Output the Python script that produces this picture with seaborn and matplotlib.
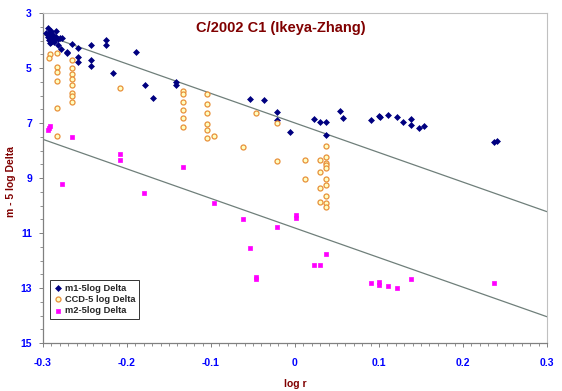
"""
C/2002 C1 (Ikeya-Zhang): reduced magnitude vs log r
"""

import numpy as np
import pandas as pd
import matplotlib
matplotlib.use('Agg')
import matplotlib.pyplot as plt
from matplotlib.ticker import MultipleLocator
import seaborn as sns

# m1 - 5 log Delta (visual total magnitudes)
m1_logr = [-0.294, -0.292, -0.296, -0.290, -0.284, -0.294, -0.291, -0.288, -0.286, -0.284,
           -0.282, -0.277, -0.293, -0.290, -0.287, -0.292, -0.282, -0.278, -0.272, -0.271,
           -0.265, -0.258, -0.258, -0.258, -0.243, -0.243, -0.243, -0.225, -0.225, -0.217,
           -0.189, -0.179, -0.169, -0.142, -0.142, -0.288, -0.294, -0.280,
           -0.054, -0.037, -0.022, -0.022, -0.006, 0.023, 0.030, 0.037, 0.037, 0.053,
           0.057, 0.090, 0.100, 0.101, 0.111, 0.122, 0.128, 0.138, 0.138, 0.148,
           0.153, 0.237, 0.241]
m1_mag = [3.56, 3.68, 3.74, 3.64, 3.64, 3.80, 3.86, 3.92, 3.96, 3.86,
          3.96, 3.92, 3.98, 4.04, 4.04, 4.10, 4.16, 4.32, 4.41, 4.47,
          4.14, 4.28, 4.59, 4.77, 4.16, 4.71, 4.92, 3.98, 4.16, 5.19,
          4.43, 5.62, 6.08, 5.50, 5.62, 3.81, 3.88, 3.91,
          6.13, 6.17, 6.59, 6.89, 7.34, 6.85, 6.95, 6.95, 7.43, 6.57,
          6.82, 6.89, 6.73, 6.77, 6.72, 6.78, 6.95, 6.85, 7.06, 7.18,
          7.11, 7.70, 7.64]

# CCD - 5 log Delta
ccd_logr = [-0.292, -0.293, -0.283, -0.283, -0.283, -0.283, -0.283, -0.283,
            -0.265, -0.265, -0.265, -0.265, -0.265, -0.265, -0.265, -0.265, -0.208,
            -0.133, -0.133, -0.133, -0.133, -0.133, -0.133,
            -0.105, -0.105, -0.105, -0.105, -0.105, -0.105, -0.096,
            -0.062, -0.046, -0.021, -0.022,
            0.012, 0.012, 0.030, 0.030, 0.030, 0.030,
            0.037, 0.037, 0.037, 0.037, 0.037, 0.037, 0.037, 0.037, 0.037, 0.037]
ccd_mag = [4.50, 4.65, 4.47, 4.97, 5.16, 5.46, 6.44, 7.46,
           4.71, 5.01, 5.22, 5.40, 5.62, 5.92, 6.02, 6.23, 5.74,
           5.84, 5.93, 6.23, 6.53, 6.83, 7.13,
           5.93, 6.32, 6.64, 7.05, 7.24, 7.55, 7.48,
           7.88, 6.65, 6.99, 8.39,
           8.33, 9.05, 8.36, 8.77, 9.37, 9.86,
           7.85, 8.24, 8.45, 8.54, 8.64, 9.05, 9.24, 9.65, 9.92, 10.04]

# m2 - 5 log Delta (nuclear magnitudes)
m2_logr = [-0.292, -0.293, -0.294, -0.265, -0.277, -0.208, -0.208, -0.180, -0.133,
           -0.097, -0.062, -0.022, 0.001, 0.001, -0.054, -0.046, -0.046, 0.037,
           0.023, 0.030, 0.090, 0.100, 0.100, 0.111, 0.122, 0.138, 0.237]
m2_mag = [7.10, 7.19, 7.25, 7.52, 9.23, 8.14, 8.35, 9.53, 8.60,
          9.91, 10.50, 10.79, 10.35, 10.47, 11.55, 12.59, 12.68, 11.75,
          12.16, 12.16, 12.83, 12.77, 12.90, 12.94, 13.00, 12.67, 12.81]

# Model lines: H + slope * log r
line_logr = [-0.3, 0.3]
line_slope = 10.75
line_H = [7.0, 10.82]

x_ticks = [-0.3, -0.2, -0.1, 0.0, 0.1, 0.2, 0.3]
x_ticklabels = ['-0.3', '-0.2', '-0.1', '0', '0.1', '0.2', '0.3']
y_ticks = [3, 5, 7, 9, 11, 13, 15]

sns.set_style('white')
plt.rcParams['font.family'] = ['Liberation Sans', 'DejaVu Sans']

fig = plt.figure(figsize=(5.62, 3.91), dpi=100)
ax = fig.add_axes([43/562, 1 - 343/391, 504/562, 330/391])

# Model lines
for H in line_H:
    df_line = pd.DataFrame({'x': line_logr,
                            'y': [H + line_slope * v for v in line_logr]})
    sns.lineplot(data=df_line, x='x', y='y', ax=ax, color='#6f7f7a',
                 lw=0.9, legend=False, zorder=1)

sns.scatterplot(x=m1_logr, y=m1_mag, ax=ax, marker='D', s=9, color='#000080',
                edgecolor='#000080', linewidth=0.5, label='m1-5log Delta', zorder=3)
sns.scatterplot(x=ccd_logr, y=ccd_mag, ax=ax, marker='o', s=13, color='#ffffc0',
                edgecolor='#e8903a', linewidth=0.9, label='CCD-5 log Delta', zorder=3)
sns.scatterplot(x=m2_logr, y=m2_mag, ax=ax, marker='s', s=11, color='#ff00ff',
                edgecolor='#ff00ff', linewidth=0.5, label='m2-5log Delta', zorder=3)

ax.set_xlim(-0.3, 0.3)
ax.set_ylim(15, 3)
ax.set_xticks(x_ticks)
ax.set_xticklabels(x_ticklabels)
ax.xaxis.set_minor_locator(MultipleLocator(0.01))
ax.set_yticks(y_ticks)
ax.set_yticklabels([str(v) for v in y_ticks])
ax.yaxis.set_minor_locator(MultipleLocator(0.5))

ax.tick_params(axis='both', which='major', direction='out', length=3, width=0.7,
               color='#808080', labelsize=7.5, labelcolor='#0000ff', pad=5)
ax.tick_params(axis='x', which='major', pad=8)
ax.tick_params(axis='both', which='minor', direction='out', length=2.5, width=0.6,
               color='#808080')
ax.tick_params(bottom=True, left=True, which='both')
for lab in ax.get_xticklabels() + ax.get_yticklabels():
    lab.set_fontweight('bold')

for side in ['left', 'bottom']:
    ax.spines[side].set_color('#808080')
    ax.spines[side].set_linewidth(0.9)
for side in ['top', 'right']:
    ax.spines[side].set_color('#c0c0c0')
    ax.spines[side].set_linewidth(0.8)

ax.set_xlabel('log r', fontsize=7.5, fontweight='bold', color='#800000')
ax.set_ylabel('m - 5 log Delta', fontsize=7.5, fontweight='bold', color='#800000')
ax.xaxis.set_label_coords(0.5, -0.108)
ax.yaxis.set_label_coords(-0.054, 0.49)

fig.text(0.5, 1 - 28/391, 'C/2002 C1 (Ikeya-Zhang)', ha='center', va='center',
         fontsize=10.5, fontweight='bold', color='#800000')

leg = ax.legend(loc='lower left', bbox_to_anchor=(0.014, 0.073), borderaxespad=0,
                frameon=True, fancybox=False, handletextpad=0.2,
                handlelength=1.0, labelspacing=0.25, borderpad=0.4,
                prop={'weight': 'bold', 'size': 6.7})
leg.get_frame().set_edgecolor('black')
leg.get_frame().set_linewidth(0.7)

fig.savefig('out.png', dpi=100)
